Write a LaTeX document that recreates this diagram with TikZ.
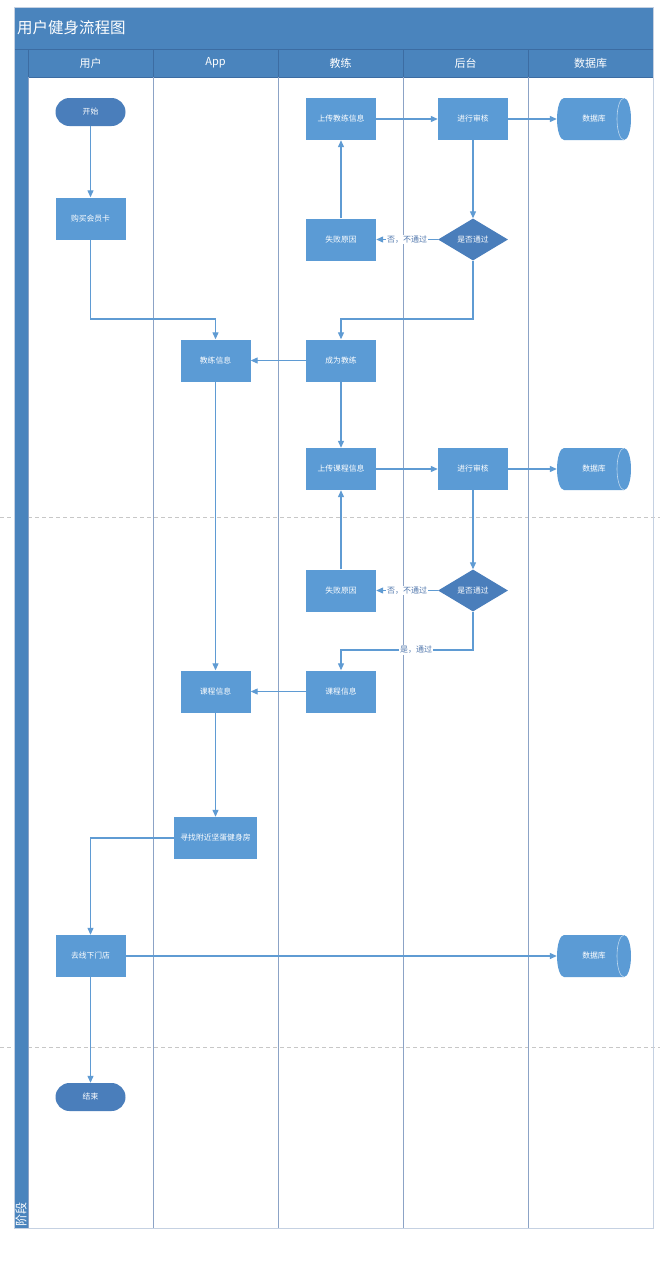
\documentclass[tikz,border=0pt]{standalone}
\usepackage{fontspec}
\setmainfont{Noto Sans CJK SC}
\usetikzlibrary{shapes.geometric,arrows.meta,calc}
\definecolor{band}{HTML}{4A84BD}
\definecolor{bandline}{HTML}{3C6CA2}
\definecolor{nodefill}{HTML}{5B9BD5}
\definecolor{darkfill}{HTML}{4A7EBB}
\definecolor{conn}{HTML}{5F9BD3}
\definecolor{lane}{HTML}{8CA3C6}
\definecolor{lbl}{HTML}{4F76AC}
\begin{document}
\begin{tikzpicture}[x=1pt,y=-1pt,
  nodefont/.style={font=\fontsize{7.8}{9}\selectfont},
  proc/.style={rectangle, fill=nodefill, minimum width=70pt, minimum height=42pt, inner sep=0pt, text=white, nodefont},
  term/.style={rectangle, rounded corners=14pt, fill=darkfill, minimum width=70pt, minimum height=28pt, inner sep=0pt, text=white, nodefont},
  dec/.style={diamond, fill=darkfill, minimum width=70pt, minimum height=42pt, inner sep=0pt, text=white, nodefont},
  db/.style={rectangle, minimum width=74pt, minimum height=42pt, inner sep=0pt, text=white, nodefont,
    path picture={
      \fill[nodefill] ([xshift=7pt]path picture bounding box.north west) -- ([xshift=-7pt]path picture bounding box.north east)
        arc[start angle=90,end angle=-90,x radius=7pt,y radius=21pt]
        -- ([xshift=7pt]path picture bounding box.south west)
        arc[start angle=270,end angle=90,x radius=7pt,y radius=21pt] -- cycle;
      \draw[white!60!nodefill, line width=0.6pt] ([xshift=-7pt]path picture bounding box.north east)
        arc[start angle=90,end angle=270,x radius=7pt,y radius=21pt];
    }},
  hdr/.style={text=white, font=\fontsize{11}{13}\selectfont, inner sep=0pt},
  conn/.style={draw=conn, line width=1.2pt, -{Triangle[length=7pt,width=6pt]}},
  lbl/.style={fill=white, text=lbl, inner sep=1pt, font=\fontsize{8}{9}\selectfont},
  laneline/.style={draw=lane, line width=0.8pt},
  sep/.style={draw=bandline, line width=0.8pt},
  phase/.style={draw=black!22, line width=0.8pt, dash pattern=on 4pt off 3pt},
]
\useasboundingbox (0,0) rectangle (660,1264);
\fill[white] (0,0) rectangle (660,1264);
% phase separators
\draw[phase] (0,517) -- (660,517);
\draw[phase] (0,1047) -- (660,1047);
% bands
\fill[band] (14,7) rectangle (653,77);
\fill[band] (14,77) rectangle (28,1228);
\draw[sep] (14,49) -- (653,49);
\foreach \x in {28,153,278,403,528} {\draw[sep] (\x,49) -- (\x,77);}
\draw[sep] (28,77) -- (653,77);
% lanes
\foreach \x in {28,153,278,403,528,653} {\draw[laneline] (\x,77) -- (\x,1228);}
\draw[laneline] (28,1228) -- (653,1228);
\draw[draw=lane!50, line width=0.6pt] (14,7) rectangle (653,1228);
% title & headers
\node[anchor=west, text=white, inner sep=0pt, font=\fontsize{15.5}{18}\selectfont] (title) at (17,28) {用户健身流程图};
\node[hdr] (h1) at (90.5,63) {用户};
\node[hdr] (h2) at (215.5,63) {App};
\node[hdr] (h3) at (340.5,63) {教练};
\node[hdr] (h4) at (465.5,63) {后台};
\node[hdr] (h5) at (590.5,63) {数据库};
\node[rotate=90, anchor=west, text=white, inner sep=0pt, font=\fontsize{12}{13}\selectfont] (phase) at (21,1227) {阶段};
% nodes
\node[term] (start) at (90.5,112) {开始};
\node[proc] (buy) at (90.5,218.5) {购买会员卡};
\node[proc] (up1) at (341,119) {上传教练信息};
\node[proc] (rev1) at (473,119) {进行审核};
\node[db] (db1) at (594,119) {数据库};
\node[proc] (fail1) at (341,239.5) {失败原因};
\node[dec] (dec1) at (473,239.5) {是否通过};
\node[proc] (coachinfo) at (215.5,360.5) {教练信息};
\node[proc] (become) at (341,360.5) {成为教练};
\node[proc] (up2) at (341,469) {上传课程信息};
\node[proc] (rev2) at (473,469) {进行审核};
\node[db] (db2) at (594,469) {数据库};
\node[proc] (fail2) at (341,590.5) {失败原因};
\node[dec] (dec2) at (473,590.5) {是否通过};
\node[proc] (course2) at (341,691.5) {课程信息};
\node[proc] (course1) at (215.5,691.5) {课程信息};
\node[proc, minimum width=83pt] (find) at (215.5,838) {寻找附近坚蛋健身房};
\node[proc] (store) at (90.5,956) {去线下门店};
\node[db] (db3) at (594,956) {数据库};
\node[term] (end) at (90.5,1097) {结束};
% junctions
\coordinate (j1) at (473,319);
\coordinate (j2) at (90.5,319);
\coordinate (j3) at (473,650);
% connectors
\draw[conn] (start) -- (buy);
\draw[conn] (up1) -- (rev1);
\draw[conn] (rev1) -- (db1.west);
\draw[conn] (rev1) -- (dec1);
\draw[conn] (dec1) -- node[lbl] {否，不通过} (fail1);
\draw[conn] (fail1) -- (up1);
\draw[conn] (dec1.south) -- (j1) -| (become.north);
\draw[conn] (buy.south) -- (j2) -| (coachinfo.north);
\draw[conn] (become) -- (coachinfo);
\draw[conn] (become) -- (up2);
\draw[conn] (up2) -- (rev2);
\draw[conn] (rev2) -- (db2.west);
\draw[conn] (rev2) -- (dec2);
\draw[conn] (dec2) -- node[lbl] {否，不通过} (fail2);
\draw[conn] (fail2) -- (up2);
\draw[conn] (dec2.south) -- (j3) -- node[lbl, pos=0.43] {是，通过} (course2.north |- j3) -- (course2.north);
\draw[conn] (course2) -- (course1);
\draw[conn] (coachinfo) -- (course1);
\draw[conn] (course1) -- (find);
\draw[conn] (find.west) -| (store.north);
\draw[conn] (store) -- (db3.west);
\draw[conn] (store) -- (end);
\end{tikzpicture}
\end{document}
